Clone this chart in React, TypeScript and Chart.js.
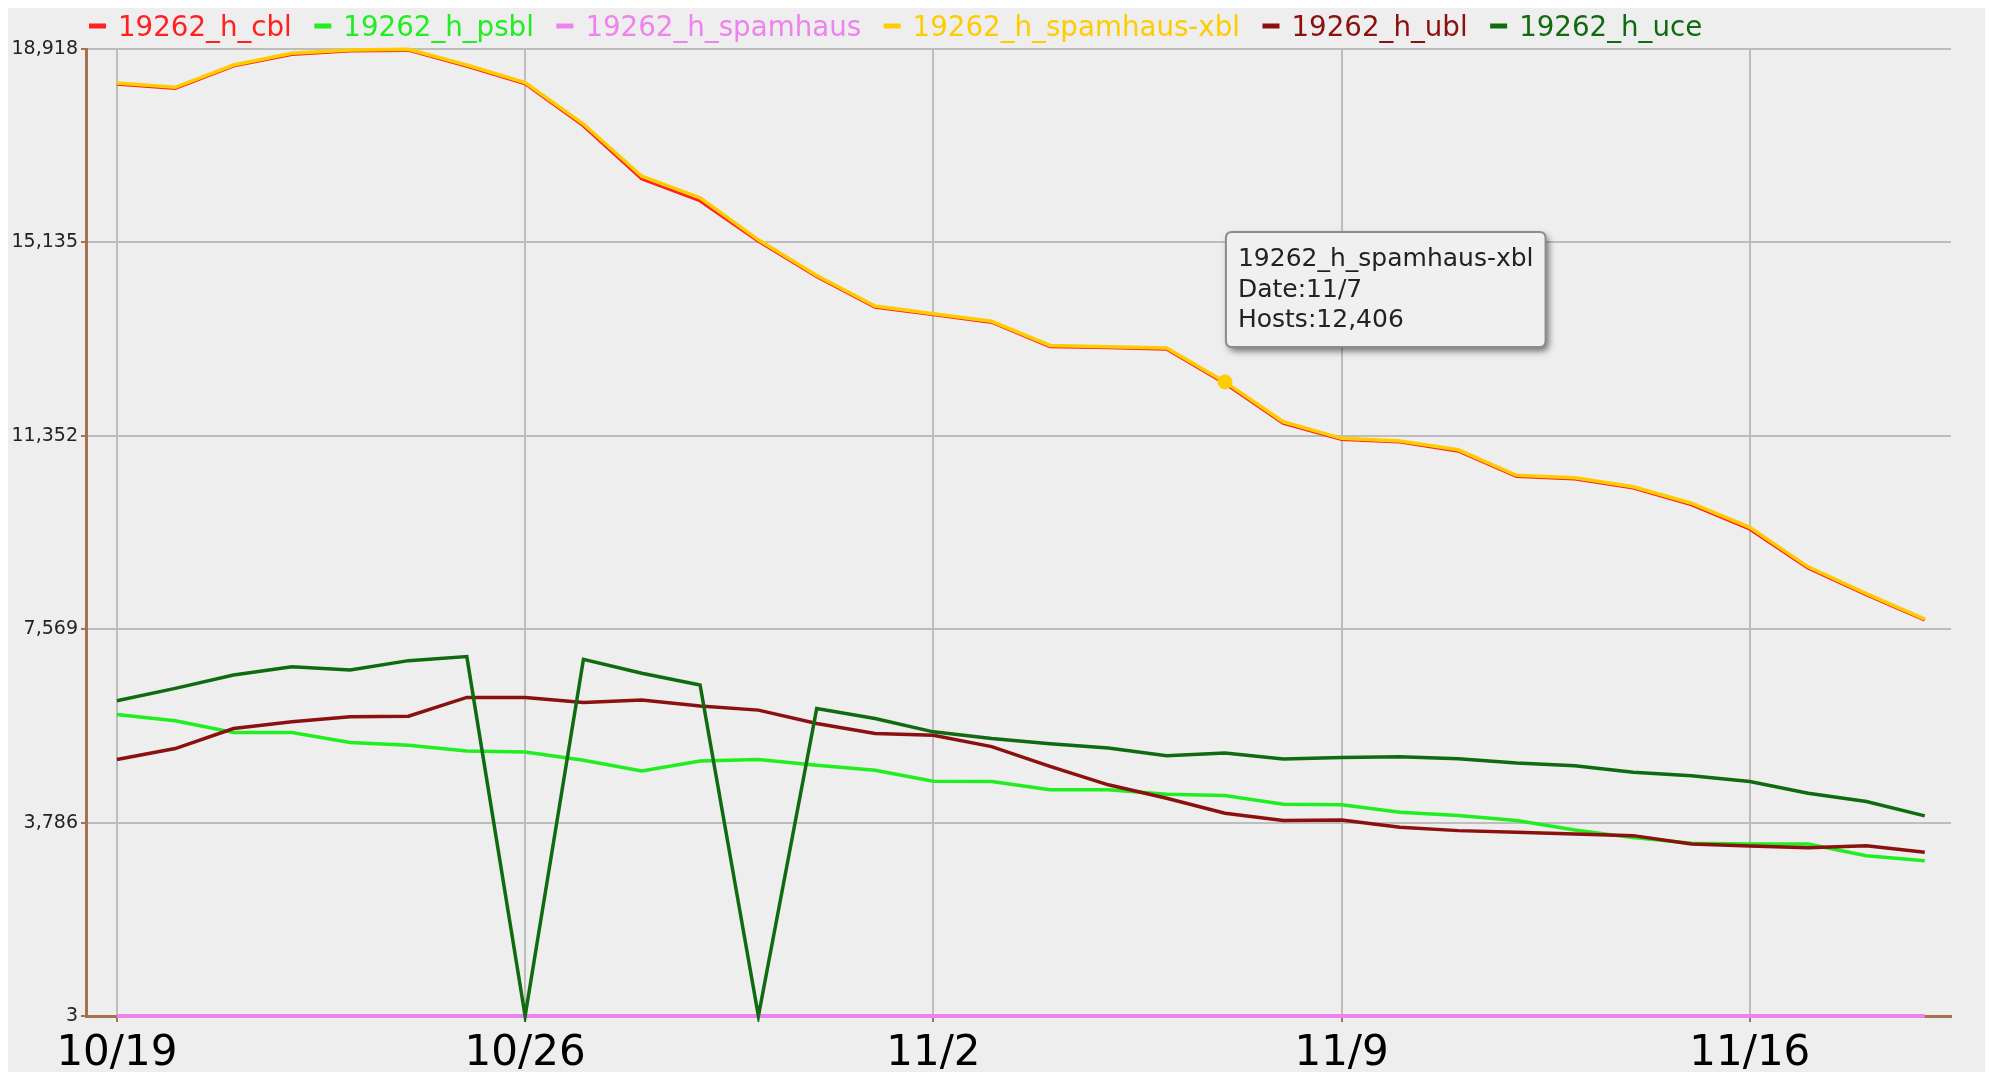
import React, { useEffect, useRef } from 'react';
import { Chart, registerables, Tooltip } from 'chart.js';

Chart.register(...registerables);

const dates = [
  '10/19', '10/20', '10/21', '10/22', '10/23', '10/24', '10/25', '10/26', '10/27', '10/28', '10/29',
  '10/30', '10/31', '11/1', '11/2', '11/3', '11/4', '11/5', '11/6', '11/7', '11/8', '11/9',
  '11/10', '11/11', '11/12', '11/13', '11/14', '11/15', '11/16', '11/17', '11/18', '11/19',
];

const seriesNames = [
  '19262_h_cbl', '19262_h_psbl', '19262_h_spamhaus', '19262_h_spamhaus-xbl', '19262_h_ubl', '19262_h_uce',
];
const seriesColors = ['#ff2020', '#20ee20', '#ee82ee', '#ffcc00', '#8b1010', '#106a10'];

const cbl = [
  18235, 18150, 18590, 18815, 18885, 18895, 18585, 18240, 17420, 16380, 15950, 15160, 14470, 13870, 13725, 13575,
  13100, 13078, 13050, 12380, 11600, 11285, 11235, 11055, 10560, 10510, 10335, 10005, 9530, 8765, 8245, 7750,
];
const psbl = [
  5901, 5777, 5548, 5548, 5352, 5300, 5188, 5169, 5005, 4796, 4992, 5019, 4907, 4809, 4593, 4590,
  4427, 4427, 4342, 4316, 4146, 4133, 3989, 3923, 3825, 3642, 3492, 3381, 3367, 3367, 3139, 3041,
];
const spamhaus = [
  3, 3, 3, 3, 3, 3, 3, 3, 3, 3, 3, 3, 3, 3, 3, 3,
  3, 3, 3, 3, 3, 3, 3, 3, 3, 3, 3, 3, 3, 3, 3, 3,
];
const spamhausXbl = [
  18253, 18168, 18605, 18834, 18900, 18912, 18605, 18259, 17450, 16430, 16006, 15185, 14488, 13891, 13741, 13592,
  13119, 13094, 13070, 12406, 11626, 11302, 11252, 11078, 10580, 10530, 10356, 10033, 9560, 8789, 8266, 7768,
];
const ubl = [
  5019, 5234, 5627, 5757, 5855, 5868, 6235, 6235, 6137, 6183, 6065, 5986, 5725, 5529, 5496, 5272,
  4885, 4525, 4263, 3969, 3825, 3838, 3694, 3629, 3596, 3564, 3531, 3367, 3328, 3295, 3335, 3204,
];
const uce = [
  6169, 6411, 6673, 6836, 6771, 6954, 7033, 3, 6980, 6706, 6477, 3, 6019, 5823, 5561, 5430,
  5329, 5244, 5094, 5146, 5028, 5061, 5074, 5035, 4950, 4898, 4773, 4701, 4590, 4361, 4198, 3917,
];

const seriesValues = [cbl, psbl, spamhaus, spamhausXbl, ubl, uce];

const xTickIndices = [0, 7, 14, 21, 28];
const yTickValues = [3, 3786, 7569, 11352, 15135, 18918];

const hoverSeries = 3;
const hoverIndex = 19;

const FONT = '"DejaVu Sans", "Liberation Sans", sans-serif';
const AXIS_BROWN = '#a5724e';
const GRID_GRAY = '#bdbdbd';

(Tooltip.positioners as any).fixedAbove = function (elements: any[]) {
  if (!elements.length) return false;
  const el = elements[0].element;
  return { x: el.x + 7, y: el.y - 150, xAlign: 'left', yAlign: 'top' };
};

const backgroundPlugin = {
  id: 'bgFill',
  beforeDraw(chart: any) {
    const ctx = chart.ctx;
    ctx.save();
    ctx.fillStyle = '#eeeeee';
    ctx.fillRect(0, 0, chart.width, chart.height);
    ctx.restore();
  },
};

const legendPlugin = {
  id: 'topLegend',
  afterDraw(chart: any) {
    const ctx = chart.ctx;
    ctx.save();
    ctx.font = `27.7px ${FONT}`;
    ctx.textBaseline = 'alphabetic';
    let x = 81;
    const yLine = 18;
    const yText = 28;
    chart.data.datasets.forEach((ds: any) => {
      ctx.strokeStyle = ds.borderColor;
      ctx.lineWidth = 5;
      ctx.beginPath();
      ctx.moveTo(x, yLine);
      ctx.lineTo(x + 17, yLine);
      ctx.stroke();
      ctx.fillStyle = ds.borderColor;
      ctx.fillText(ds.label, x + 29, yText);
      x += 29 + ctx.measureText(ds.label).width + 22.5;
    });
    ctx.restore();
  },
};

const tooltipShadowPlugin = {
  id: 'tooltipShadow',
  beforeTooltipDraw(chart: any, args: any) {
    const tt = args.tooltip;
    if (!tt || !tt.opacity) return;
    const ctx = chart.ctx;
    ctx.save();
    ctx.shadowColor = 'rgba(0,0,0,0.55)';
    ctx.shadowBlur = 7;
    ctx.shadowOffsetX = 3;
    ctx.shadowOffsetY = 4;
    ctx.fillStyle = '#f0f0f0';
    ctx.beginPath();
    (ctx as any).roundRect(tt.x, tt.y, tt.width, tt.height, 6);
    ctx.fill();
    ctx.restore();
  },
};

export default function App() {
  const canvasRef = useRef<HTMLCanvasElement | null>(null);

  useEffect(() => {
    if (!canvasRef.current) return;
    const datasets = seriesNames.map((name, si) => ({
      label: name,
      data: seriesValues[si].map((v, i) => ({ x: i, y: v })),
      borderColor: seriesColors[si],
      backgroundColor: seriesColors[si],
      borderWidth: si === 2 ? 4 : 3.5,
      pointRadius: 0,
      pointHoverRadius: 7,
      pointHitRadius: 0,
      pointHoverBorderWidth: 1,
      pointHoverBackgroundColor: seriesColors[si],
      pointHoverBorderColor: seriesColors[si],
      tension: 0,
      fill: false,
      clip: 6,
      order: seriesNames.length - si,
    }));

    const chart = new Chart(canvasRef.current, {
      type: 'line',
      data: { datasets },
      plugins: [backgroundPlugin, tooltipShadowPlugin, legendPlugin],
      options: {
        animation: false,
        responsive: false,
        devicePixelRatio: 1,
        events: [],
        layout: { padding: { top: 41, left: 0, right: 34, bottom: 0 } },
        plugins: {
          legend: { display: false },
          tooltip: {
            enabled: true,
            position: 'fixedAbove' as any,
            backgroundColor: '#f0f0f0',
            borderColor: '#8c8c8c',
            borderWidth: 2,
            cornerRadius: 6,
            caretSize: 0,
            caretPadding: 0,
            padding: { left: 12, right: 12, top: 13, bottom: 11 },
            displayColors: false,
            titleColor: '#222222',
            bodyColor: '#222222',
            titleFont: { family: FONT, size: 25, weight: 'normal' },
            bodyFont: { family: FONT, size: 25, weight: 'normal' },
            titleMarginBottom: 0.5,
            titleSpacing: 0,
            bodySpacing: 0.5,
            callbacks: {
              title: (items: any[]) => (items.length ? items[0].dataset.label : ''),
              label: (item: any) => [
                'Date:' + dates[item.dataIndex],
                'Hosts:' + Number(item.parsed.y).toLocaleString('en-US'),
              ],
            },
          },
        },
        scales: {
          x: {
            type: 'linear',
            min: -0.53,
            max: 31.45,
            afterBuildTicks: (scale: any) => {
              scale.ticks = xTickIndices.map((v) => ({ value: v }));
            },
            afterFit: (scale: any) => {
              scale.height = 56;
            },
            ticks: {
              autoSkip: false,
              maxRotation: 0,
              padding: 7,
              color: '#000000',
              font: { family: FONT, size: 42 },
              callback: (value: any) => dates[Number(value)] ?? '',
            },
            grid: {
              color: GRID_GRAY,
              lineWidth: 2,
              drawTicks: true,
              tickLength: 6,
              tickColor: AXIS_BROWN,
              tickWidth: 2,
            },
            border: { display: true, color: AXIS_BROWN, width: 3 },
          },
          y: {
            type: 'linear',
            min: 3,
            max: 18918,
            afterBuildTicks: (scale: any) => {
              scale.ticks = yTickValues.map((v) => ({ value: v }));
            },
            afterFit: (scale: any) => {
              scale.width = 78;
            },
            ticks: {
              autoSkip: false,
              padding: 3,
              color: '#222222',
              font: { family: FONT, size: 19 },
              callback: (value: any) => Number(value).toLocaleString('en-US'),
            },
            grid: {
              color: GRID_GRAY,
              lineWidth: 2,
              drawTicks: true,
              tickLength: 5,
              tickColor: AXIS_BROWN,
              tickWidth: 2,
            },
            border: { display: true, color: AXIS_BROWN, width: 3 },
          },
        },
      },
    });

    const active = [{ datasetIndex: hoverSeries, index: hoverIndex }];
    chart.setActiveElements(active);
    chart.tooltip?.setActiveElements(active, { x: 0, y: 0 });
    chart.update();

    return () => {
      chart.destroy();
    };
  }, []);

  return (
    <div style={{ width: 1977, height: 1064, background: '#eeeeee' }}>
      <canvas ref={canvasRef} width={1977} height={1064} style={{ display: 'block', width: 1977, height: 1064 }} />
    </div>
  );
}
